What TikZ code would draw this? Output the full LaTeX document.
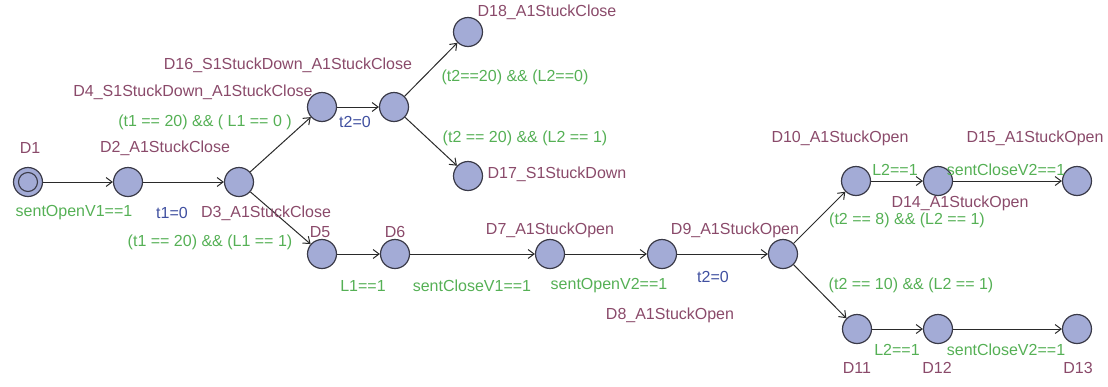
\documentclass[tikz,border=0pt]{standalone}
\usepackage{fontspec}
\setmainfont{Liberation Sans}
\usetikzlibrary{arrows.meta}
\definecolor{locfill}{HTML}{A3ABD6}
\definecolor{locdraw}{HTML}{3A3A48}
\definecolor{namecol}{HTML}{8A4A6A}
\definecolor{guardcol}{HTML}{55B055}
\definecolor{assigncol}{HTML}{4050A0}
\definecolor{edgecol}{HTML}{2A2A2A}
\tikzset{
  loc/.style={circle, draw=locdraw, fill=locfill, line width=1.2pt, minimum size=29pt, inner sep=0pt},
  innerring/.style={circle, draw=locdraw, line width=1.1pt, minimum size=19pt, inner sep=0pt},
  txtstyle/.style={inner sep=0pt, font=\fontsize{16}{18}\selectfont},
  locname/.style={txtstyle, text=namecol},
  guardtxt/.style={txtstyle, text=guardcol},
  assigntxt/.style={txtstyle, text=assigncol},
  conn/.style={draw=edgecol, line width=1pt, -{Straight Barb[length=6pt,width=9pt]}}
}
\begin{document}
\begin{tikzpicture}[x=1pt,y=-1pt]
\useasboundingbox (0,0) rectangle (1108,386);
% locations
\node[loc] (D1) at (28,182) {};
\node[innerring] (D1in) at (28,182) {};
\node[loc] (D2) at (128,182) {};
\node[loc] (D3) at (239,182) {};
\node[loc] (D4) at (322,107) {};
\node[loc] (D16) at (394,107) {};
\node[loc] (D18) at (468,32) {};
\node[loc] (D17) at (468,176) {};
\node[loc] (D5) at (322,254) {};
\node[loc] (D6) at (395,254) {};
\node[loc] (D7) at (550,254) {};
\node[loc] (D8) at (662,254) {};
\node[loc] (D9) at (783,254) {};
\node[loc] (D10) at (856,181) {};
\node[loc] (D14) at (938,181) {};
\node[loc] (D15) at (1077,181) {};
\node[loc] (D11) at (857,329) {};
\node[loc] (D12) at (938,329) {};
\node[loc] (D13) at (1077,329) {};
% edges
\draw[conn] (D1) -- (D2);
\draw[conn] (D2) -- (D3);
\draw[conn] (D3) -- (D4);
\draw[conn] (D4) -- (D16);
\draw[conn] (D16) -- (D18);
\draw[conn] (D16) -- (D17);
\draw[conn] (D3) -- (D5);
\draw[conn] (D5) -- (D6);
\draw[conn] (D6) -- (D7);
\draw[conn] (D7) -- (D8);
\draw[conn] (D8) -- (D9);
\draw[conn] (D9) -- (D10);
\draw[conn] (D10) -- (D14);
\draw[conn] (D14) -- (D15);
\draw[conn] (D9) -- (D11);
\draw[conn] (D11) -- (D12);
\draw[conn] (D12) -- (D13);
% location names
\node[locname] (nD1) at (30,148) {D1};
\node[locname] (nD2) at (165,148) {D2\_A1StuckClose};
\node[locname] (nD3) at (266,213) {D3\_A1StuckClose};
\node[locname] (nD4) at (193,92) {D4\_S1StuckDown\_A1StuckClose};
\node[locname] (nD16) at (288,65) {D16\_S1StuckDown\_A1StuckClose};
\node[locname] (nD18) at (547,12) {D18\_A1StuckClose};
\node[locname] (nD17) at (557,174) {D17\_S1StuckDown};
\node[locname] (nD5) at (320,232) {D5};
\node[locname] (nD6) at (395,232) {D6};
\node[locname] (nD7) at (550,230) {D7\_A1StuckOpen};
\node[locname] (nD8) at (670,315) {D8\_A1StuckOpen};
\node[locname] (nD9) at (735,230) {D9\_A1StuckOpen};
\node[locname] (nD10) at (840,138) {D10\_A1StuckOpen};
\node[locname] (nD15) at (1035,138) {D15\_A1StuckOpen};
\node[locname] (nD14) at (960,203) {D14\_A1StuckOpen};
\node[locname] (nD11) at (857,368) {D11};
\node[locname] (nD12) at (937,368) {D12};
\node[locname] (nD13) at (1078,368) {D13};
% guards
\node[guardtxt] (g1) at (74,213) {sentOpenV1==1};
\node[guardtxt] (g2) at (205,122) {(t1 == 20) \&\& ( L1 == 0 )};
\node[guardtxt] (g3) at (210,242) {(t1 == 20) \&\& (L1 == 1)};
\node[guardtxt] (g4) at (515,77) {(t2==20) \&\& (L2==0)};
\node[guardtxt] (g5) at (525,138) {(t2 == 20) \&\& (L2 == 1)};
\node[guardtxt] (g6) at (363,286) {L1==1};
\node[guardtxt] (g7) at (472,286) {sentCloseV1==1};
\node[guardtxt] (g8) at (609,286) {sentOpenV2==1};
\node[guardtxt] (g9) at (895,170) {L2==1};
\node[guardtxt] (g10) at (1006,170) {sentCloseV2==1};
\node[guardtxt] (g11) at (907,220) {(t2 == 8) \&\& (L2 == 1)};
\node[guardtxt] (g12) at (911,285) {(t2 == 10) \&\& (L2 == 1)};
\node[guardtxt] (g13) at (897,350) {L2==1};
\node[guardtxt] (g14) at (1006,350) {sentCloseV2==1};
% assignments
\node[assigntxt] (a1) at (172,213) {t1=0};
\node[assigntxt] (a2) at (355,122) {t2=0};
\node[assigntxt] (a3) at (713,277) {t2=0};
\end{tikzpicture}
\end{document}
